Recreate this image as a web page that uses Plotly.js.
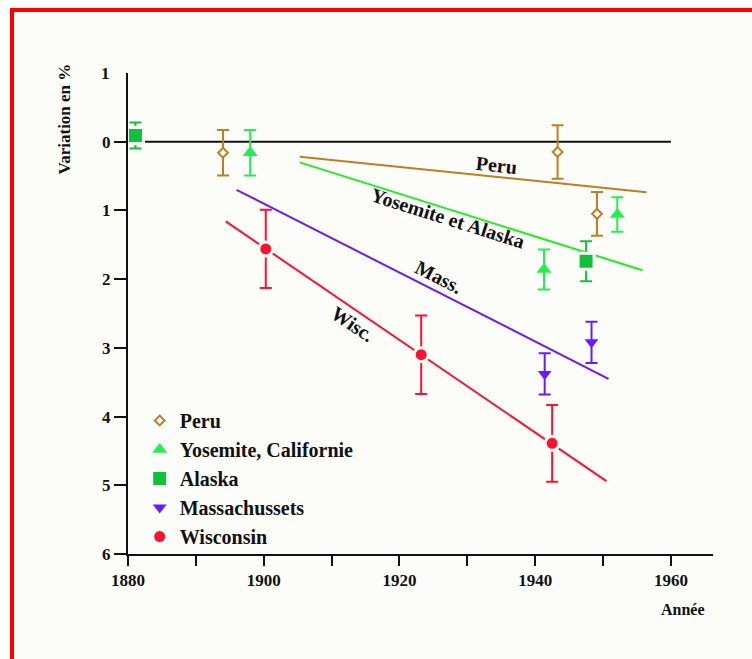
<!DOCTYPE html>
<html>
<head>
<meta charset="utf-8">
<script src="https://cdn.plot.ly/plotly-3.0.1.min.js"></script>
<style>
  html, body { margin:0; padding:0; background:#ffffff; }
  #frame { position:absolute; left:10px; top:8px; width:760px; height:700px;
           border-left:4px solid #ff0000; border-top:4px solid #ff0000; background:#fcfcf8; }
  #chart { position:absolute; left:0; top:0; width:752px; height:659px; }
</style>
</head>
<body>
<div id="frame"></div>
<div id="chart"></div>
<script>
// ---- data (negative = decrease, shown as positive labels) ----
const peruX   = [1894.0, 1943.3, 1949.1];
const peruY   = [-0.16, -0.15, -1.05];
const peruErr = [0.33, 0.39, 0.32];

const yosX   = [1898.0, 1941.3, 1952.1];
const yosY   = [-0.16, -1.86, -1.06];
const yosErr = [0.33, 0.29, 0.25];

const alaskaX   = [1881.1, 1947.5];
const alaskaY   = [0.09, -1.74];
const alaskaErr = [0.19, 0.29];

const massX   = [1941.4, 1948.3];
const massY   = [-3.38, -2.92];
const massErr = [0.30, 0.30];

const wiscX   = [1900.3, 1923.2, 1942.5];
const wiscY   = [-1.56, -3.10, -4.39];
const wiscErr = [0.57, 0.57, 0.56];

// fitted trend lines
const peruLineX = [1905.3, 1956.4];
const peruLineY = [-0.22, -0.735];
const yosLineX  = [1905.3, 1955.8];
const yosLineY  = [-0.30, -1.87];
const massLineX = [1896.0, 1950.8];
const massLineY = [-0.70, -3.45];
const wiscLineX = [1894.4, 1950.5];
const wiscLineY = [-1.16, -4.94];

const xTickVals = [1880, 1890, 1900, 1910, 1920, 1930, 1940, 1950, 1960];
const xTickText = ['1880', '', '1900', '', '1920', '', '1940', '', '1960'];
const yTickVals = [0, -1, -2, -3, -4, -5, -6];
const yTickText = ['0', '1', '2', '3', '4', '5', '6'];

const names = ['Peru', 'Yosemite, Californie', 'Alaska', 'Massachussets', 'Wisconsin'];
const lineLabels = ['Peru', 'Yosemite et Alaska', 'Mass.', 'Wisc.'];

// ---- styles ----
const BG = '#fcfcf8';
const cPeru = '#c07d22', cYos = '#22f050', cAlaska = '#12c03a', cMass = '#6a1aff', cWisc = '#ff1030';
const cYosLine = '#22ee22';
const FONT = 'Liberation Serif, Times New Roman, serif';

function lineTrace(x, y, color) {
  return { x: x, y: y, type: 'scatter', mode: 'lines', showlegend: false, hoverinfo: 'skip',
           line: { color: color, width: 2 } };
}
function ptTrace(x, y, err, name, color, symbol, size, fill, lineColor, lineWidth, group) {
  return {
    x: x, y: y, type: 'scatter', mode: 'markers', name: name, legendgroup: group,
    error_y: { type: 'data', array: err, visible: true, color: color, thickness: 2, width: 6 },
    marker: { symbol: symbol, size: size, color: fill,
              line: { color: lineColor, width: lineWidth } }
  };
}

const traces = [
  lineTrace(peruLineX, peruLineY, cPeru),
  lineTrace(yosLineX, yosLineY, cYosLine),
  lineTrace(massLineX, massLineY, cMass),
  lineTrace(wiscLineX, wiscLineY, cWisc),
  ptTrace(peruX, peruY, peruErr, names[0], cPeru, 'diamond', 7.5, BG, cPeru, 2, 'g1'),
  ptTrace(yosX, yosY, yosErr, names[1], cYos, 'triangle-up', 13, cYos, cYos, 0, 'g2'),
  ptTrace(alaskaX, alaskaY, alaskaErr, names[2], cAlaska, 'square', 16, cAlaska, BG, 3, 'g3'),
  ptTrace(massX, massY, massErr, names[3], cMass, 'triangle-down', 12, cMass, cMass, 0, 'g4'),
  ptTrace(wiscX, wiscY, wiscErr, names[4], cWisc, 'circle', 14, cWisc, BG, 3, 'g5')
];

function lbl(text, x, y, angle) {
  return { text: text, x: x, y: y, xref: 'x', yref: 'y', showarrow: false, textangle: angle,
           font: { family: FONT, size: 20, color: '#111111', weight: 'bold' } };
}

const layout = {
  width: 752, height: 659,
  margin: { l: 128, r: 39, t: 73, b: 105, pad: 0 },
  paper_bgcolor: 'rgba(0,0,0,0)',
  plot_bgcolor: 'rgba(0,0,0,0)',
  font: { family: FONT, color: '#111111', weight: 'bold' },
  showlegend: true,
  legend: {
    x: 0.02, y: 0.318, xanchor: 'left', yanchor: 'top',
    bgcolor: 'rgba(0,0,0,0)', traceorder: 'grouped', tracegroupgap: 0,
    font: { family: FONT, size: 20, color: '#111111', weight: 'bold' }
  },
  xaxis: {
    range: [1880, 1966.2], showgrid: false, zeroline: false,
    showline: true, linecolor: '#111111', linewidth: 2,
    ticks: 'outside', ticklen: 10, tickwidth: 2, tickcolor: '#111111',
    tickmode: 'array', tickvals: xTickVals, ticktext: xTickText,
    tickfont: { family: FONT, size: 17, color: '#111111', weight: 'bold' }
  },
  yaxis: {
    range: [-6, 1], showgrid: false, zeroline: false,
    showline: true, linecolor: '#111111', linewidth: 2,
    ticks: 'outside', ticklen: 12, tickwidth: 2, tickcolor: '#111111',
    tickmode: 'array', tickvals: yTickVals, ticktext: yTickText,
    tickfont: { family: FONT, size: 17, color: '#111111', weight: 'bold' }
  },
  shapes: [
    { type: 'line', xref: 'x', yref: 'y', x0: 1880, x1: 1960, y0: 0, y1: 0,
      line: { color: '#111111', width: 2 }, layer: 'below' }
  ],
  annotations: [
    { text: '1', xref: 'paper', yref: 'y', x: -0.039, y: 1, xanchor: 'center', yanchor: 'middle',
      showarrow: false, font: { family: FONT, size: 17, color: '#111111', weight: 'bold' } },
    { text: 'Variation en %', xref: 'paper', yref: 'paper', x: -0.108, y: 0.905, textangle: -90,
      xanchor: 'center', yanchor: 'middle', showarrow: false,
      font: { family: FONT, size: 17, color: '#111111', weight: 'bold' } },
    { text: 'Année', xref: 'paper', yref: 'paper', x: 0.948, y: -0.115, xanchor: 'center', yanchor: 'middle',
      showarrow: false, font: { family: FONT, size: 16, color: '#111111', weight: 'bold' } },
    lbl(lineLabels[0], 1934.3, -0.335, 6),
    lbl(lineLabels[1], 1927.1, -1.106, 17.5),
    lbl(lineLabels[2], 1925.8, -1.97, 27),
    lbl(lineLabels[3], 1913.1, -2.66, 34)
  ]
};

Plotly.newPlot('chart', traces, layout, { displayModeBar: false, staticPlot: true });
</script>
</body>
</html>
